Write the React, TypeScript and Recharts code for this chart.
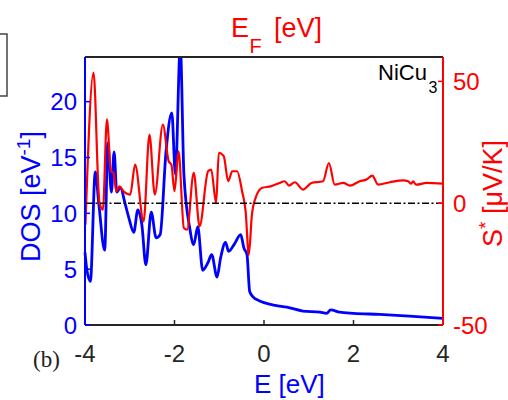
import { LineChart, Line, XAxis, YAxis, ReferenceLine } from "recharts";

// density of states of NiCu3 (states/eV) vs energy (eV)
const dosEnergy = [
  -4.0, -3.96, -3.88, -3.77, -3.69, -3.56, -3.49, -3.41, -3.35, -3.29, -3.21,
  -3.1, -3.02, -2.91, -2.82, -2.73, -2.64, -2.52, -2.41, -2.32, -2.19, -2.06,
  -1.98, -1.87, -1.79, -1.66, -1.57, -1.48, -1.37, -1.25, -1.17, -1.05, -0.97,
  -0.86, -0.79, -0.67, -0.52, -0.45, -0.38, -0.32, -0.24, -0.12, 0, 0.25, 0.51,
  0.87, 1.25, 1.4, 1.49, 1.69, 2.0, 2.58, 3.25, 4.0,
];
const dosValues = [
  6.5, 5.0, 3.9, 13.7, 10.8, 6.7, 16.3, 11.9, 15.5, 11.9, 12.3, 10.8, 9.6, 8.3,
  10.3, 9.0, 5.4, 10.1, 7.8, 8.1, 15.5, 19.0, 13.5, 25.0, 13.5, 8.7, 7.2, 8.8,
  4.9, 5.6, 6.3, 4.3, 6.0, 7.4, 6.6, 7.2, 8.1, 6.9, 6.3, 3.0, 2.5, 2.2, 2.0,
  1.75, 1.6, 1.25, 1.15, 1.05, 1.35, 1.15, 1.05, 0.95, 0.8, 0.6,
];

// Seebeck coefficient S* (uV/K) vs Fermi level (eV)
const seebeckEnergy = [
  -3.99, -3.81, -3.68, -3.6, -3.51, -3.42, -3.36, -3.3, -3.23, -3.14, -2.99,
  -2.88, -2.69, -2.56, -2.44, -2.26, -2.13, -2.07, -2.0, -1.91, -1.79, -1.72,
  -1.57, -1.44, -1.25, -1.18, -1.07, -1.01, -0.9, -0.8, -0.71, -0.6, -0.49,
  -0.41, -0.34, -0.27, -0.19, -0.04, 0.15, 0.35, 0.46, 0.56, 0.69, 0.87, 1.06,
  1.32, 1.45, 1.58, 1.77, 1.92, 2.14, 2.29, 2.42, 2.55, 2.81, 3.11, 3.22, 3.29,
  3.33, 3.4, 3.63, 4.0,
];
const seebeckValues = [
  -8.8, 53.6, 0.7, -2.7, 34.4, 13.1, 12.4, 4.9, 6.9, 4.9, 3.5, 15.8, -7.5,
  28.2, 3.5, 32.3, 17.2, 15.8, 4.9, 21.3, -10.2, -10.9, 12.4, -9.5, 13.1, 13.8,
  0.1, 20.7, 19.3, 9.0, 13.1, 13.1, 4.9, -3.4, -21.2, -4.7, 2.1, 6.3, 6.9, 8.3,
  9.0, 7.2, 8.6, 5.6, 8.3, 9.0, 16.5, 7.6, 8.3, 7.2, 9.0, 9.7, 11.3, 7.6, 8.6,
  9.4, 9.0, 8.0, 9.0, 7.6, 8.3, 8.0,
];

const energyTicks = [-4, -2, 0, 2, 4];
const dosTicks = [0, 5, 10, 15, 20];
const seebeckTicks = [-50, 0, 50];

const dosData = dosEnergy.map((e, i) => ({ e, dos: dosValues[i] }));
const seebeckData = seebeckEnergy.map((e, i) => ({ e, s: seebeckValues[i] }));

const font = "'Liberation Sans', Arial, Helvetica, sans-serif";
const BLUE = "#0000ff";
const RED = "#ff0000";
const DARK = "#262626";

export default function App() {
  return (
    <div
      style={{
        position: "absolute",
        left: 0,
        top: 0,
        width: 508,
        height: 400,
        background: "#fff",
      }}
    >
      <LineChart
        width={508}
        height={400}
        margin={{ top: 27, right: 5, bottom: 25, left: 25 }}
      >
        <XAxis
          xAxisId="top"
          orientation="top"
          type="number"
          domain={[-4, 4]}
          ticks={[-2, 0, 2]}
          interval={0}
          height={30}
          tickSize={-5}
          tick={() => <g />}
          axisLine={{ stroke: DARK, strokeWidth: 2 }}
          tickLine={{ stroke: DARK, strokeWidth: 1.5 }}
        />
        <XAxis
          xAxisId="bottom"
          type="number"
          dataKey="e"
          domain={[-4, 4]}
          ticks={energyTicks}
          interval={0}
          height={50}
          tickSize={-5}
          tickMargin={25}
          tick={{ fill: DARK, fontSize: 24, fontFamily: font }}
          axisLine={{ stroke: DARK, strokeWidth: 2 }}
          tickLine={{ stroke: DARK, strokeWidth: 1.5 }}
        />
        <YAxis
          yAxisId="dos"
          orientation="left"
          width={60}
          type="number"
          domain={[0, 24]}
          allowDataOverflow
          ticks={dosTicks}
          interval={0}
          tickSize={-5}
          tickMargin={13}
          tick={{ fill: BLUE, fontSize: 24, fontFamily: font }}
          axisLine={{ stroke: BLUE, strokeWidth: 2 }}
          tickLine={{ stroke: BLUE, strokeWidth: 1.5 }}
        />
        <YAxis
          yAxisId="s"
          orientation="right"
          width={60}
          type="number"
          domain={[-50, 60]}
          allowDataOverflow
          ticks={seebeckTicks}
          interval={0}
          tickSize={-5}
          tickMargin={15}
          tick={{ fill: RED, fontSize: 24, fontFamily: font }}
          axisLine={{ stroke: RED, strokeWidth: 2 }}
          tickLine={{ stroke: RED, strokeWidth: 1.5 }}
        />
        <Line
          xAxisId="bottom"
          yAxisId="dos"
          data={dosData}
          dataKey="dos"
          type="monotone"
          stroke={BLUE}
          strokeWidth={2.8}
          dot={false}
          isAnimationActive={false}
        />
        <Line
          xAxisId="bottom"
          yAxisId="s"
          data={seebeckData}
          dataKey="s"
          type="monotone"
          stroke={RED}
          strokeWidth={2.2}
          dot={false}
          isAnimationActive={false}
        />
        <ReferenceLine
          xAxisId="bottom"
          yAxisId="s"
          y={0}
          stroke="#000"
          strokeWidth={1.6}
          strokeDasharray="7 2.5 2 2.5"
        />
      </LineChart>

      {/* titles and annotations */}
      <svg
        width={508}
        height={400}
        style={{ position: "absolute", left: 0, top: 0, pointerEvents: "none" }}
        fontFamily={font}
      >
        <rect x={-3} y={34} width={10} height={62} fill="none" stroke="#444" strokeWidth={1.5} />

        <text fill={RED} fontSize={27}>
          <tspan x={231} y={37}>E</tspan>
          <tspan x={249.5} y={53} fontSize={20}>F</tspan>
          <tspan x={274} y={37}>[eV]</tspan>
        </text>

        <text x={254} y={393} fill={BLUE} fontSize={26}>
          E [eV]
        </text>

        <text transform="translate(40,262) rotate(-90)" fill={BLUE} fontSize={27}>
          DOS [eV
          <tspan dy={-10} fontSize={19}>-1</tspan>
          <tspan dy={10}>]</tspan>
        </text>

        <text transform="translate(502,247) rotate(-90)" fill={RED} fontSize={27}>
          S
          <tspan dy={-10} fontSize={19}>*</tspan>
          <tspan dy={10}> [μV/K]</tspan>
        </text>

        <text fill="#000" fontSize={22}>
          <tspan x={378} y={80}>NiCu</tspan>
          <tspan x={428.5} y={93} fontSize={16}>3</tspan>
        </text>

        <text x={33} y={367} fill="#222" fontSize={23} fontFamily="'Liberation Serif', 'Times New Roman', serif">
          (b)
        </text>
      </svg>
    </div>
  );
}
